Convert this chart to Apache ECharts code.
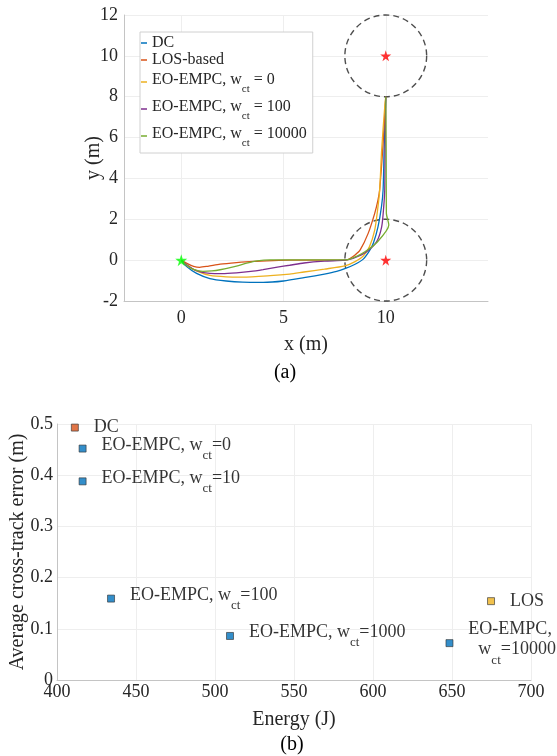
<!DOCTYPE html>
<html>
<head>
<meta charset="utf-8">
<script src="https://cdn.jsdelivr.net/npm/echarts@6/dist/echarts.min.js"></script>
<style>
  html, body { margin: 0; padding: 0; background: #fff; }
  #chart { width: 557px; height: 756px; }
</style>
</head>
<body>
<div id="chart"></div>
<script>
// (a) trajectories, x/y in metres
var dcPath = [[0,0],[0.25,-0.3],[0.75,-0.65],[1.4,-0.9],[2.2,-1.02],[3.0,-1.08],[4.0,-1.09],[5.0,-1.02],[6.0,-0.86],[7.0,-0.68],[7.6,-0.55],[8.0,-0.42],[8.5,-0.2],[8.9,0.05],[9.2,0.45],[9.4,0.85],[9.62,1.63],[9.79,2.61],[9.87,3.43],[9.92,5.4],[10,8]];
var losPath = [[0,0],[0.3,-0.17],[0.6,-0.3],[0.9,-0.35],[1.3,-0.3],[1.9,-0.2],[2.7,-0.12],[3.5,-0.06],[4.5,-0.02],[5.3,0],[8.05,0],[8.25,0.08],[8.5,0.25],[8.75,0.5],[9.14,1.31],[9.46,2.29],[9.62,2.94],[9.7,3.43],[9.85,5.4],[10,8]];
var empc0Path = [[0,0],[0.3,-0.28],[0.8,-0.55],[1.4,-0.75],[2.2,-0.82],[3.0,-0.83],[4.35,-0.76],[5.3,-0.68],[6.0,-0.58],[7.0,-0.44],[8.0,-0.28],[8.5,-0.07],[8.9,0.2],[9.2,0.65],[9.46,1.47],[9.6,2.45],[9.7,3.4],[9.8,5.4],[9.95,7.5],[10,8]];
var empc100Path = [[0,0],[0.3,-0.25],[0.7,-0.5],[1.4,-0.65],[2.0,-0.66],[2.7,-0.62],[3.4,-0.55],[4.0,-0.46],[4.7,-0.34],[5.3,-0.25],[6.0,-0.14],[7.0,-0.05],[8.0,0],[8.4,0.08],[9.06,0.41],[9.55,0.9],[9.8,1.63],[9.9,2.61],[9.95,3.43],[9.97,5.4],[10,8]];
var empc10000Path = [[0,0],[0.3,-0.27],[0.6,-0.45],[1.06,-0.55],[1.5,-0.53],[1.9,-0.47],[2.7,-0.29],[3.2,-0.15],[3.7,-0.04],[4.35,0.01],[8.05,0.01],[8.6,0.2],[9.0,0.42],[9.55,0.85],[10.15,1.72],[10.03,2.3],[10.02,5.4],[10,8]];
var startPoint = [[0,0]];
var waypoints = [[10,10],[10,0]];
var acceptRadius = 2;
var pathNames = ['DC', 'LOS-based', 'EO-EMPC, w_ct = 0', 'EO-EMPC, w_ct = 100', 'EO-EMPC, w_ct = 10000'];
var pathColors = ['#0072BD', '#D95319', '#EDB120', '#7E2F8E', '#77AC30'];
var xTicksA = [0, 5, 10];

// (b) energy vs average cross-track error
var dcPoint = [[411.3, 0.493]];
var losPoint = [[674.7, 0.154]];
var empcEnergy = [416.2, 416.2, 434.2, 509.5, 648.4];
var empcError = [0.452, 0.388, 0.159, 0.086, 0.072];
var empcNames = ['EO-EMPC, w_ct=0', 'EO-EMPC, w_ct=10', 'EO-EMPC, w_ct=100', 'EO-EMPC, w_ct=1000', 'EO-EMPC,\nw_ct=10000'];

var FONT = 'Liberation Serif';
var TXT = '#262626';
var INK = '#000';

var starPath = 'path://M50,0 L61,35 L98,35 L68,57 L79,91 L50,70 L21,91 L32,57 L2,35 L39,35 Z';

function legendFmt(name) {
    if (name.indexOf('w_ct') < 0) return '{m|' + name + '}';
    var parts = name.split('w_ct');
    return '{n|' + parts[0] + 'w}{s|ct}{n|' + parts[1] + '}';
}

function pointFmt(name) {
    if (name.indexOf('w_ct') < 0) return '{m|' + name + '}';
    var lines = name.split('\n');
    if (lines.length > 1) {
        var p = lines[1].split('w_ct');
        return '{n|' + lines[0] + '}\n{q|w}{s|ct}{n|' + p[1] + '}';
    }
    var parts = name.split('w_ct');
    return '{n|' + parts[0] + 'w}{s|ct}{n|' + parts[1] + '}';
}

var pathSeries = [dcPath, losPath, empc0Path, empc100Path, empc10000Path].map(function (d, i) {
    return {
        name: pathNames[i],
        type: 'line',
        xAxisIndex: 0,
        yAxisIndex: 0,
        data: d,
        smooth: 0.25,
        showSymbol: false,
        symbol: 'none',
        lineStyle: { color: pathColors[i], width: 1.3 },
        itemStyle: { color: pathColors[i] },
        z: 3
    };
});

var empcData = empcEnergy.map(function (e, i) {
    return { name: empcNames[i], value: [e, empcError[i]] };
});

var pointLabel = {
    show: true,
    position: 'right',
    distance: 15,
    color: INK,
    fontFamily: FONT,
    formatter: function (p) { return pointFmt(p.name); },
    rich: {
        m: { fontFamily: FONT, fontSize: 18, color: INK, lineHeight: 20 },
        n: { fontFamily: FONT, fontSize: 18, color: INK, lineHeight: 20, padding: [0, 0, 7, 0] },
        q: { fontFamily: FONT, fontSize: 18, color: INK, lineHeight: 20, padding: [0, 0, 7, 10] },
        s: { fontFamily: FONT, fontSize: 13, color: INK, lineHeight: 13, padding: [14, 0, 0, 0] }
    }
};

var myChart = echarts.init(document.getElementById('chart'));

var option = {
    backgroundColor: '#fff',
    animation: false,
    textStyle: { fontFamily: FONT },
    grid: [
        { left: 124, top: 15, width: 364, height: 286, outerBoundsMode: 'none', containLabel: false },
        { left: 57, top: 424, width: 474, height: 256, outerBoundsMode: 'none', containLabel: false }
    ],
    legend: {
        orient: 'vertical',
        left: 140,
        top: 32,
        padding: [3, 6, 4, 1],
        itemGap: 1,
        itemWidth: 6,
        itemHeight: 1.5,
        icon: 'rect',
        backgroundColor: '#fff',
        borderColor: '#d0d0d0',
        borderWidth: 1,
        data: pathNames,
        formatter: legendFmt,
        textStyle: {
            fontFamily: FONT,
            fontSize: 16,
            color: TXT,
            rich: {
                m: { fontFamily: FONT, fontSize: 16, color: TXT, lineHeight: 18 },
                n: { fontFamily: FONT, fontSize: 16, color: TXT, lineHeight: 18, padding: [2, 0, 6, 0] },
                s: { fontFamily: FONT, fontSize: 11, color: TXT, lineHeight: 11, padding: [15, 0, 0, 0] }
            }
        }
    },
    xAxis: [
        {
            type: 'value',
            gridIndex: 0,
            min: -2.8,
            max: 15,
            name: 'x (m)',
            nameLocation: 'middle',
            nameGap: 34,
            nameTextStyle: { fontFamily: FONT, fontSize: 20, color: TXT },
            axisLine: { onZero: false, lineStyle: { color: '#c4c4c4' } },
            axisTick: { show: false, customValues: xTicksA },
            axisLabel: { customValues: xTicksA, fontFamily: FONT, fontSize: 18, color: TXT, margin: 8 },
            splitLine: { show: true, lineStyle: { color: '#eeeeee' } }
        },
        {
            type: 'value',
            gridIndex: 1,
            min: 400,
            max: 700,
            interval: 50,
            name: 'Energy (J)',
            nameLocation: 'middle',
            nameGap: 30,
            nameTextStyle: { fontFamily: FONT, fontSize: 20, color: TXT },
            axisLine: { onZero: false, lineStyle: { color: '#c4c4c4' } },
            axisTick: { show: false },
            axisLabel: { fontFamily: FONT, fontSize: 18, color: TXT, margin: 3 },
            splitLine: { show: true, lineStyle: { color: '#eeeeee' } }
        }
    ],
    yAxis: [
        {
            type: 'value',
            gridIndex: 0,
            min: -2,
            max: 12,
            interval: 2,
            name: 'y (m)',
            nameLocation: 'middle',
            nameRotate: 90,
            nameGap: 20,
            nameMoveOverlap: false,
            nameTextStyle: { fontFamily: FONT, fontSize: 20, color: TXT },
            axisLine: { show: true, onZero: false, lineStyle: { color: '#c4c4c4' } },
            axisTick: { show: false },
            axisLabel: { fontFamily: FONT, fontSize: 18, color: TXT, margin: 6 },
            splitLine: { show: true, lineStyle: { color: '#eeeeee' } }
        },
        {
            type: 'value',
            gridIndex: 1,
            min: 0,
            max: 0.5,
            interval: 0.1,
            name: 'Average cross-track error (m)',
            nameLocation: 'middle',
            nameRotate: 90,
            nameGap: 29,
            nameMoveOverlap: false,
            nameTextStyle: { fontFamily: FONT, fontSize: 20, color: TXT },
            axisLine: { show: true, onZero: false, lineStyle: { color: '#c4c4c4' } },
            axisTick: { show: false },
            axisLabel: { fontFamily: FONT, fontSize: 18, color: TXT, margin: 4 },
            splitLine: { show: true, lineStyle: { color: '#eeeeee' } }
        }
    ],
    graphic: [
        { type: 'text', x: 285, y: 373, style: { text: '(a)', fontFamily: FONT, fontSize: 20, fill: INK, align: 'center', verticalAlign: 'middle' } },
        { type: 'text', x: 292, y: 745, style: { text: '(b)', fontFamily: FONT, fontSize: 20, fill: INK, align: 'center', verticalAlign: 'middle' } }
    ],
    series: [
        {
            id: 'zones',
            type: 'scatter',
            xAxisIndex: 0,
            yAxisIndex: 0,
            data: waypoints,
            symbol: 'circle',
            symbolSize: 82,
            silent: true,
            itemStyle: { color: 'rgba(0,0,0,0)', borderColor: '#222', borderWidth: 1.4, borderType: [6, 4] },
            z: 2
        }
    ].concat(pathSeries).concat([
        {
            type: 'scatter',
            xAxisIndex: 0,
            yAxisIndex: 0,
            data: waypoints,
            symbol: starPath,
            symbolSize: 11,
            silent: true,
            itemStyle: { color: '#ff0000' },
            z: 5
        },
        {
            type: 'scatter',
            xAxisIndex: 0,
            yAxisIndex: 0,
            data: startPoint,
            symbol: starPath,
            symbolSize: 12,
            silent: true,
            itemStyle: { color: '#00ff00' },
            z: 5
        },
        {
            name: 'DC point',
            type: 'scatter',
            xAxisIndex: 1,
            yAxisIndex: 1,
            data: dcPoint.map(function (v) { return { name: 'DC', value: v }; }),
            symbol: 'rect',
            symbolSize: 7,
            itemStyle: { color: '#D95319', borderColor: '#333', borderWidth: 0.8 },
            label: pointLabel
        },
        {
            name: 'EO-EMPC points',
            type: 'scatter',
            xAxisIndex: 1,
            yAxisIndex: 1,
            data: empcData,
            symbol: 'rect',
            symbolSize: 7,
            itemStyle: { color: '#0072BD', borderColor: '#333', borderWidth: 0.8 },
            label: pointLabel
        },
        {
            name: 'LOS point',
            type: 'scatter',
            xAxisIndex: 1,
            yAxisIndex: 1,
            data: losPoint.map(function (v) { return { name: 'LOS', value: v }; }),
            symbol: 'rect',
            symbolSize: 7,
            itemStyle: { color: '#EDB120', borderColor: '#333', borderWidth: 0.8 },
            label: pointLabel
        }
    ])
};

myChart.setOption(option);

// size the acceptance circles from the axis scale
var c0 = myChart.convertToPixel({ xAxisIndex: 0, yAxisIndex: 0 }, waypoints[0]);
var c1 = myChart.convertToPixel({ xAxisIndex: 0, yAxisIndex: 0 }, [waypoints[0][0] + acceptRadius, waypoints[0][1]]);
myChart.setOption({ series: [{ id: 'zones', symbolSize: 2 * Math.abs(c1[0] - c0[0]) }] });
</script>
</body>
</html>
